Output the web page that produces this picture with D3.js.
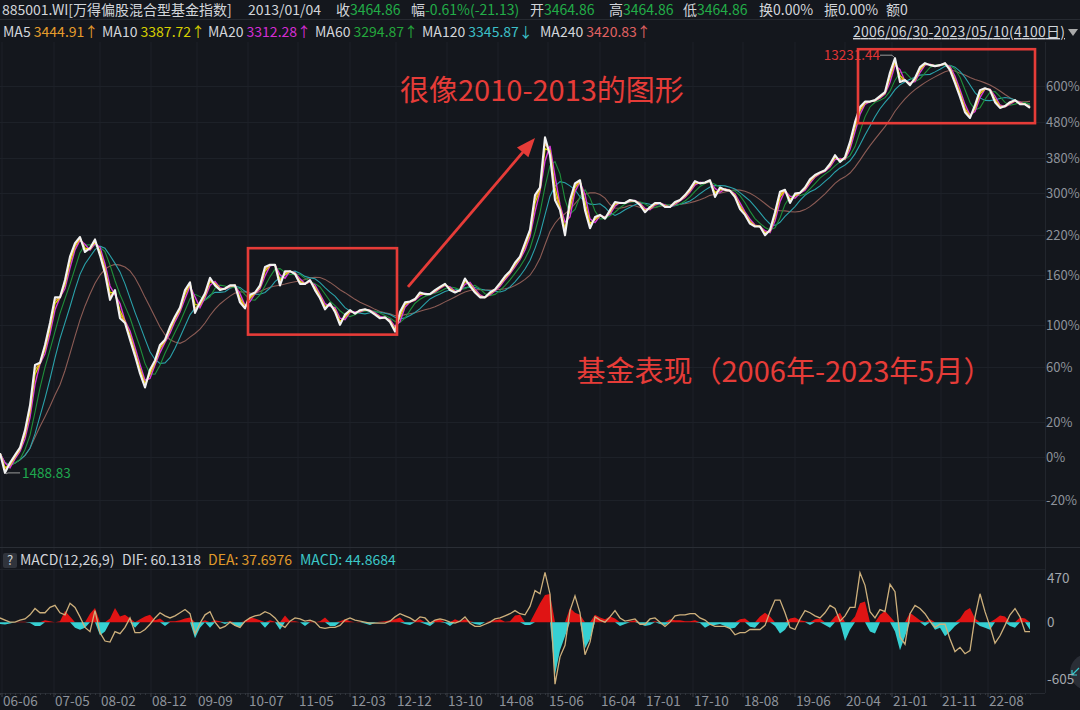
<!DOCTYPE html>
<html><head><meta charset="utf-8">
<script src="https://cdn.jsdelivr.net/npm/d3@7"></script>
<style>
html,body{margin:0;padding:0;background:#14171d;}
svg{display:block;font-family:"Noto Sans CJK SC","Noto Sans",sans-serif;}
</style></head><body>
<svg id="c" width="1080" height="710"></svg>
<script>
// ---------------- DATA ----------------
// monthly-ish closes of 885001.WI, expressed as % change vs. the axis base (2006/06/30 - 2023/05/10)
const closePct = [
2,-8,-3,1,5,15,31,62,64,80,
102,131,131,153,186,207,217,193,199,213,
188,162,128,140,107,102,85,70,55,44,
58,66,80,85,98,109,119,140,150,113,
125,136,156,146,140,142,146,146,125,118,
134,137,146,171,174,174,146,165,165,161,
148,148,153,140,130,117,124,114,100,111,
116,112,116,117,115,111,107,108,103,93,
114,125,126,129,137,135,135,140,144,148,
140,137,140,155,145,137,131,131,137,141,
149,158,165,177,186,207,229,295,311,435,
387,285,265,220,285,320,327,265,232,252,
256,249,265,281,279,279,285,283,275,261,
271,279,279,271,271,281,285,295,308,325,
320,322,327,291,311,306,304,291,267,256,
240,235,235,220,229,261,302,306,279,298,
300,311,329,339,345,350,365,387,370,382,
422,479,527,545,545,550,564,578,651,710,
615,622,603,630,673,689,681,677,681,689,
661,611,561,510,492,533,585,592,585,543,
524,530,543,550,536,536,524];
// MACD DIF line values
const difVals = [
45,22,0,0,22,34,78,145,100,100,
157,179,100,78,201,157,56,-56,-101,123,
-112,-201,-212,-101,-123,-56,45,-112,-112,-78,
-22,45,100,67,45,67,100,134,90,-123,
-11,78,112,0,-67,-45,0,-34,-56,11,
45,67,78,112,90,45,-22,-56,11,45,
34,11,22,0,-56,-67,-56,-56,-34,22,
45,22,11,0,-11,-11,-11,-11,11,56,
90,67,45,11,56,45,-11,22,34,22,
0,-11,11,56,-11,-45,-45,-22,0,34,
45,67,90,123,90,78,168,336,302,530,
300,-660,-369,-246,123,280,100,-347,-213,56,
22,0,56,123,45,11,22,34,-22,-22,
34,45,0,-45,0,67,78,78,90,90,
45,22,-22,-45,-45,-45,-67,-134,-112,-112,
-78,-78,-78,-34,112,235,235,100,-56,-78,
34,123,100,67,45,100,179,145,11,67,
157,157,526,392,112,45,134,112,403,325,
-157,-235,90,179,145,90,11,-56,-22,-22,
-179,-313,-268,-336,-302,56,302,112,-45,-224,
-145,-34,78,145,56,-101,-101];
// MACD histogram values
const histVals = [
-20,-25,-15,0,5,5,-10,-40,-40,20,
10,0,10,120,60,-60,-80,-60,90,150,
-140,-100,40,150,60,80,40,-60,30,60,
80,20,40,-40,10,10,20,40,50,-170,
-60,20,-60,20,10,-20,10,-40,-50,10,
50,40,20,-60,20,5,-80,70,10,10,
0,-40,10,0,10,50,-40,-40,10,30,
10,0,5,-15,-30,-5,5,10,20,30,
50,-20,-30,10,30,-20,-40,20,30,-10,
-40,30,10,30,10,-20,-30,0,10,20,
30,5,10,70,80,-30,-30,100,200,290,
300,-560,-300,-150,150,100,80,-280,-180,80,
50,30,60,40,-40,-20,10,20,-20,-40,
-30,10,-20,-30,30,20,20,10,10,20,
-10,-60,-30,-30,-20,-40,-70,-60,30,40,
-50,-60,60,100,60,-40,-120,-80,40,50,
20,10,-30,30,40,-30,-60,60,100,-200,
-80,60,200,220,-100,-120,80,120,60,-100,
-300,-150,100,60,20,-40,30,-80,-60,-150,
-100,-40,40,120,150,40,-40,-60,-80,30,
70,60,-40,-60,50,40,-80];

const totalDays = 4100;
const xTickLabels = ["06-06","07-05","08-02","08-12","09-09","10-07","11-05","12-03","12-12","13-10","14-08","15-06","16-04","17-01","17-10","18-08","19-06","20-04","21-01","21-11","22-08"];
const xTickIndex  = [0.4,10.8,20,30.2,39.4,49.6,59.6,70,79.2,89.4,99.6,109.6,120,129,138.6,148.6,159,169,178.4,188.2,197.6];
const yTickPct = [600,480,380,300,220,160,100,60,20,0,-20];
const macdTicks = [470,0,-605];

const titleText = "885001.WI[万得偏股混合型基金指数]";
const dateText = "2013/01/04";
const quoteLabels = ["收","幅","开","高","低","换","振","额"];
const quoteValues = ["3464.86","-0.61%(-21.13)","3464.86","3464.86","3464.86","0.00%","0.00%","0"];
const maNames = ["MA5","MA10","MA20","MA60","MA120","MA240"];
const maPeriods = [5,10,20,60,120,240];
const maValues = ["3444.91","3387.72","3312.28","3294.87","3345.87","3420.83"];
const maTrend = ["↑","↑","↑","↑","↓","↑"];
const rangeText = "2006/06/30-2023/05/10(4100日)";
const macdLabels = ["MACD(12,26,9)","DIF: 60.1318","DEA: 37.6976","MACD: 44.8684"];
const highText = "13231.44", lowText = "1488.83";
const note1 = "很像2010-2013的图形";
const note2 = "基金表现（2006年-2023年5月）";
// annotation boxes / arrow in data units [index, pct]
const box1 = [[49.6,199],[79.4,90]];
const box2 = [[171.6,749],[207,476]];
const arrowFromTo = [[81.6,144],[107,433]];
const note1Pos = [80,548];
const note2Pos = [115.3,48];

// ---------------- STYLE ----------------
const BG = "#14171d", GRID = "#1d2128", LABEL = "#d2d5da", AXIS = "#8e939b";
const RED = "#e63c38";
const quoteColors = ["#22ad48","#22ad48","#22ad48","#22ad48","#22ad48",LABEL,LABEL,LABEL];
const quoteX = [336,411,530,609,683,759,824,886];
const maTextColors = ["#e59c2c","#d8d000","#d42ed4","#24a83c","#3cc0c8","#e06262"];
const maLineColors = ["#e8a23a","#e2e000","#d83ad8","#1f8f3a","#2aa2aa","#8c5c55"];
const maX = [3,102,208,315,422,540];

// ---------------- DRAW ----------------
const svg = d3.select("#c");
svg.append("rect").attr("width",1080).attr("height",710).attr("fill",BG);

const N = closePct.length;
const x = d3.scaleLinear().domain([0, N-1]).range([0, 1030]);
const y = d3.scaleLog().domain([1, 7]).range([457, 86]);
const yM = d3.scaleLinear().domain([-605, 470]).range([679, 578]);
const ratio = closePct.map(p => 1 + p/100);
const yp = p => y(1 + p/100);

// grid
const g = svg.append("g");
g.selectAll(".vg").data(xTickIndex).join("line")
  .attr("x1",d=>x(d)).attr("x2",d=>x(d)).attr("y1",42).attr("y2",693)
  .attr("stroke",GRID).attr("stroke-width",1);
g.selectAll(".hg").data(yTickPct).join("line")
  .attr("x1",0).attr("x2",1045).attr("y1",d=>Math.round(yp(d))+0.5).attr("y2",d=>Math.round(yp(d))+0.5)
  .attr("stroke",GRID).attr("stroke-width",1);
svg.append("line").attr("x1",1045.5).attr("x2",1045.5).attr("y1",42).attr("y2",693).attr("stroke","#22262d");
svg.append("line").attr("x1",0).attr("x2",1080).attr("y1",19.5).attr("y2",19.5).attr("stroke","#262a31");
svg.append("line").attr("x1",0).attr("x2",1080).attr("y1",547.5).attr("y2",547.5).attr("stroke","#2a2e35");
svg.append("line").attr("x1",0).attr("x2",1045).attr("y1",569.5).attr("y2",569.5).attr("stroke","#1f232a");
svg.append("line").attr("x1",0).attr("x2",1045).attr("y1",693.5).attr("y2",693.5).attr("stroke","#262a31");

// clip
const defs = svg.append("defs");
defs.append("clipPath").attr("id","mainClip").append("rect").attr("x",0).attr("y",42).attr("width",1045).attr("height",504);
defs.append("clipPath").attr("id","macdClip").append("rect").attr("x",0).attr("y",570).attr("width",1045).attr("height",123);

// moving averages over the read series (continuous trailing window)
function interp(arr, t){ const i0=Math.floor(t), i1=Math.min(arr.length-1,i0+1), f=t-i0; return arr[i0]*(1-f)+arr[i1]*f; }
function movingAvg(arr, w){
  return arr.map((_, i) => {
    const s0 = Math.max(0, i - w);
    if (i - s0 < 1e-9) return arr[i];
    let s = 0; const n = 40;
    for (let k=0;k<=n;k++) s += interp(arr, s0 + (i - s0)*k/n);
    return s/(n+1);
  });
}
const dpp = totalDays / N;
const lineGen = d3.line().x((d,i)=>x(i)).y(d=>y(d));
const main = svg.append("g").attr("clip-path","url(#mainClip)");
const order = [5,4,3,2,1,0];
order.forEach(k => {
  const ma = movingAvg(ratio, maPeriods[k]/dpp);
  main.append("path").attr("d", lineGen(ma)).attr("fill","none")
    .attr("stroke", maLineColors[k]).attr("stroke-width", k>=3 ? 1.1 : 1.4);
});
main.append("path").attr("d", lineGen(ratio)).attr("fill","none")
  .attr("stroke","#f2f2f2").attr("stroke-width",2.1).attr("stroke-linejoin","round");

// high / low labels
const iMax = d3.maxIndex(closePct), iMin = d3.minIndex(closePct);
const hx = x(iMax), hy = yp(closePct[iMax]);
svg.append("path").attr("d",`M${hx-1},${hy-1}L${hx-3},${hy-3}L${hx-15},${hy-3}`).attr("fill","none").attr("stroke","#9a9a9a").attr("stroke-width",1);
svg.append("text").attr("x",hx-15).attr("y",hy+2).attr("text-anchor","end").attr("font-size",13.5).attr("fill","#e03535").text(highText);
const lx = x(iMin), ly = yp(closePct[iMin]);
svg.append("path").attr("d",`M${lx+1},${ly+1}L${lx+3},${ly}L${lx+15},${ly}`).attr("fill","none").attr("stroke","#9a9a9a").attr("stroke-width",1);
svg.append("text").attr("x",lx+17).attr("y",ly+5).attr("font-size",13.5).attr("fill","#1fa84f").text(lowText);

// right axis labels
svg.selectAll(".yl").data(yTickPct).join("text")
  .attr("x",1046).attr("y",d=>yp(d)+5).attr("font-size",13).attr("fill",AXIS).text(d=>d+"%");

// annotations
[box1, box2].forEach(b => {
  const x0 = x(b[0][0]), x1 = x(b[1][0]), y0 = yp(b[0][1]), y1 = yp(b[1][1]);
  svg.append("rect").attr("x",x0).attr("y",y0).attr("width",x1-x0).attr("height",y1-y0)
    .attr("fill","none").attr("stroke",RED).attr("stroke-width",2.6);
});
{
  const ax0 = x(arrowFromTo[0][0]), ay0 = yp(arrowFromTo[0][1]);
  const ax1 = x(arrowFromTo[1][0]), ay1 = yp(arrowFromTo[1][1]);
  const dx = ax1-ax0, dy = ay1-ay0, L = Math.hypot(dx,dy), ux = dx/L, uy = dy/L;
  const hl = 19, hw = 7.5;
  const bx = ax1-ux*hl, by = ay1-uy*hl;
  svg.append("line").attr("x1",ax0).attr("y1",ay0).attr("x2",bx+ux*2).attr("y2",by+uy*2).attr("stroke",RED).attr("stroke-width",2.8);
  svg.append("path").attr("d",`M${ax1},${ay1}L${bx-uy*hw},${by+ux*hw}L${bx+uy*hw},${by-ux*hw}Z`).attr("fill",RED);
}
svg.append("text").attr("x",x(note1Pos[0])).attr("y",yp(note1Pos[1])).attr("font-size",29).attr("fill",RED).text(note1);
svg.append("text").attr("x",x(note2Pos[0])).attr("y",yp(note2Pos[1])).attr("font-size",29).attr("fill",RED).text(note2);

// MACD panel
const macdG = svg.append("g").attr("clip-path","url(#macdClip)");
const areaPos = d3.area().x((d,i)=>x(i)).y0(yM(0)).y1(d=>yM(Math.max(0,d)));
const areaNeg = d3.area().x((d,i)=>x(i)).y0(yM(0)).y1(d=>yM(Math.min(0,d)));
macdG.append("path").attr("d",areaPos(histVals)).attr("fill","#e01414");
macdG.append("path").attr("d",areaNeg(histVals)).attr("fill","#36d0d2");
const difLine = d3.line().x((d,i)=>x(i)).y(d=>yM(d));
macdG.append("path").attr("d",difLine(difVals)).attr("fill","none").attr("stroke","#cdb07c").attr("stroke-width",1.3);

// corner button (behind the labels)
svg.append("circle").attr("cx",1088).attr("cy",672).attr("r",18).attr("fill","#2a2e36");
svg.append("path").attr("d","M1079,668L1072,675M1072,670L1072,675L1077,675").attr("fill","none").attr("stroke","#36c8cc").attr("stroke-width",1.2);

svg.selectAll(".ml").data(macdTicks).join("text")
  .attr("x",1047).attr("y",d=>yM(d)+5).attr("font-size",13.5).attr("fill","#a3a7ad").text(d=>d);

// x axis
svg.selectAll(".xt").data(xTickIndex).join("line")
  .attr("x1",d=>x(d)).attr("x2",d=>x(d)).attr("y1",693).attr("y2",697).attr("stroke","#3a3e46");
svg.selectAll(".mt").data(d3.range(N)).join("line")
  .attr("x1",d=>x(d)+0.5).attr("x2",d=>x(d)+0.5).attr("y1",693).attr("y2",695).attr("stroke","#30343b");
svg.selectAll(".xl").data(xTickLabels).join("text")
  .attr("x",(d,i)=>x(xTickIndex[i])+1).attr("y",706).attr("font-size",13.5).attr("fill",AXIS).text(d=>d);

// header row 1
svg.append("text").attr("x",2).attr("y",15).attr("font-size",14).attr("fill",LABEL).text(titleText);
svg.append("text").attr("x",248).attr("y",15).attr("font-size",14).attr("fill",LABEL).text(dateText);
quoteLabels.forEach((lab,i) => {
  const t = svg.append("text").attr("x",quoteX[i]).attr("y",15).attr("font-size",14);
  t.append("tspan").attr("fill",LABEL).text(lab);
  t.append("tspan").attr("fill",quoteColors[i]).text(quoteValues[i]);
});
// header row 2
maNames.forEach((nm,i) => {
  const t = svg.append("text").attr("x",maX[i]).attr("y",37).attr("font-size",14);
  t.append("tspan").attr("fill",LABEL).text(nm+" ");
  t.append("tspan").attr("fill",maTextColors[i]).text(maValues[i]+maTrend[i]);
});
svg.append("text").attr("x",853).attr("y",37).attr("font-size",14).attr("fill",LABEL)
  .attr("text-decoration","underline").attr("textLength",212).attr("lengthAdjust","spacing").text(rangeText);
svg.append("path").attr("d","M1068,29L1078,29L1073,36Z").attr("fill","#aaaaaa");

// MACD header
svg.append("rect").attr("x",3).attr("y",553).attr("width",14).attr("height",15).attr("rx",2).attr("fill","#30343c");
svg.append("text").attr("x",10).attr("y",565).attr("text-anchor","middle").attr("font-size",13).attr("fill",LABEL).text("?");
const macdColors = [LABEL, LABEL, "#e09a2a", "#3cc8c8"];
const macdX = [20,122,208,300];
macdLabels.forEach((s,i)=>{
  svg.append("text").attr("x",macdX[i]).attr("y",565).attr("font-size",14).attr("fill",macdColors[i]).text(s);
});
</script>
</body></html>
